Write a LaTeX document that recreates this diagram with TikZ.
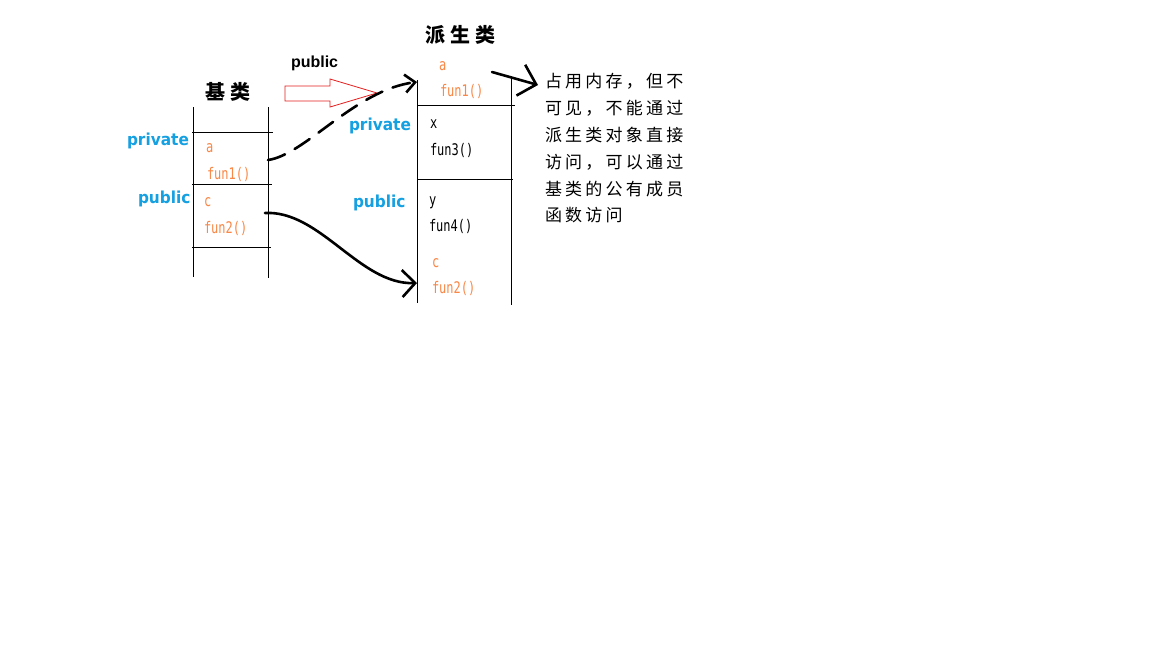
\documentclass[tikz,border=0pt]{standalone}
\usepackage{fontspec}
\setmainfont{DejaVu Sans}
\newfontfamily\cjkt[LetterSpace=19]{Noto Sans CJK SC}
\newfontfamily\cjkh[LetterSpace=25]{Noto Sans CJK SC}
\newfontfamily\monof[FakeStretch=0.75]{DejaVu Sans Mono}
\newfontfamily\lblf[FakeStretch=0.93]{DejaVu Sans}
\newfontfamily\arialf{Liberation Sans}
\usetikzlibrary{arrows.meta}
\definecolor{lblue}{RGB}{20,160,225}
\definecolor{morange}{RGB}{250,135,70}
\definecolor{hred}{RGB}{230,30,30}
\begin{document}
\begin{tikzpicture}[x=1pt,y=-1pt,
  every node/.style={inner sep=0pt,outer sep=0pt},
  lbl/.style={anchor=base west,text=lblue,font=\lblf\fontsize{16.5}{16.5}\selectfont\bfseries},
  mem/.style={anchor=base west,text=morange,font=\monof\fontsize{16}{16}\selectfont},
  memk/.style={mem,text=black},
  head/.style={anchor=west,font=\cjkh\fontsize{20}{20}\selectfont\bfseries},
  note/.style={anchor=west,font=\cjkt\fontsize{17}{17}\selectfont},
  boxline/.style={line width=1pt,black},
  conn/.style={line width=2.6pt,line cap=round,black}]
\useasboundingbox (0,0) rectangle (1152,648);
\fill[white] (0,0) rectangle (1152,648);

% base class box
\draw[boxline] (193,107) -- (193,277);
\draw[boxline] (268,107) -- (268,278);
\draw[boxline] (192,132) -- (273,132);
\draw[boxline] (192,184) -- (272,184);
\draw[boxline] (192,247) -- (271,247);

% derived class box
\draw[boxline] (417,80) -- (417,303);
\draw[boxline] (511,78) -- (511,305);
\draw[boxline] (417,105) -- (515,105);
\draw[boxline] (417,179) -- (513,179);

% headings
\node[head] (hbase) at (205,92) {基类};
\node[head] (hder) at (425,35) {派生类};
\node[anchor=base west,font=\arialf\fontsize{16}{16}\selectfont\bfseries] (pubtop) at (291,67) {public};

% red hollow arrow
\draw[hred,line width=0.8pt,fill=white] (285,86) -- (330,86) -- (330,79) -- (377,93) -- (330,107) -- (330,101) -- (285,101) -- cycle;

% base labels
\node[lbl] (bpriv) at (127,145) {private};
\node[lbl] (bpub) at (138,203) {public};
\node[mem] (ba) at (206,152) {a};
\node[mem] (bf1) at (207,179) {fun1()};
\node[mem] (bc) at (204,206) {c};
\node[mem] (bf2) at (204,233) {fun2()};

% derived labels
\node[mem] (da) at (439,70) {a};
\node[mem] (df1) at (440,96) {fun1()};
\node[lbl] (dpriv) at (349,130) {private};
\node[memk] (dx) at (430,128) {x};
\node[memk] (df3) at (430,155) {fun3()};
\node[lbl] (dpub) at (353,207) {public};
\node[memk] (dy) at (429,205) {y};
\node[memk] (df4) at (429,231) {fun4()};
\node[mem] (dc) at (432,267) {c};
\node[mem] (df2) at (432,293) {fun2()};

% note text
\node[note] (t1) at (545,81) {占用内存，但不};
\node[note] (t2) at (545,108) {可见，不能通过};
\node[note] (t3) at (545,135) {派生类对象直接};
\node[note] (t4) at (545,162) {访问，可以通过};
\node[note] (t5) at (545,189) {基类的公有成员};
\node[note] (t6) at (545,215) {函数访问};

% connectors
\coordinate (s1) at (268,160);
\coordinate (e1) at (417,82);
\coordinate (s2) at (265,213);
\coordinate (e2) at (417,283);
\coordinate (s3) at (492,72);
\coordinate (e3) at (538,85);
\draw[conn,dash pattern=on 18pt off 11pt,-{Straight Barb[length=10pt,width=18pt]}]
  (s1) .. controls (305,155) and (355,90) .. (e1);
\draw[conn,-{Straight Barb[length=13pt,width=27pt]}]
  (s2) .. controls (320,210) and (360,285) .. (e2);
\draw[conn,-{Straight Barb[length=16pt,width=32pt]}] (s3) -- (e3);
\end{tikzpicture}
\end{document}
